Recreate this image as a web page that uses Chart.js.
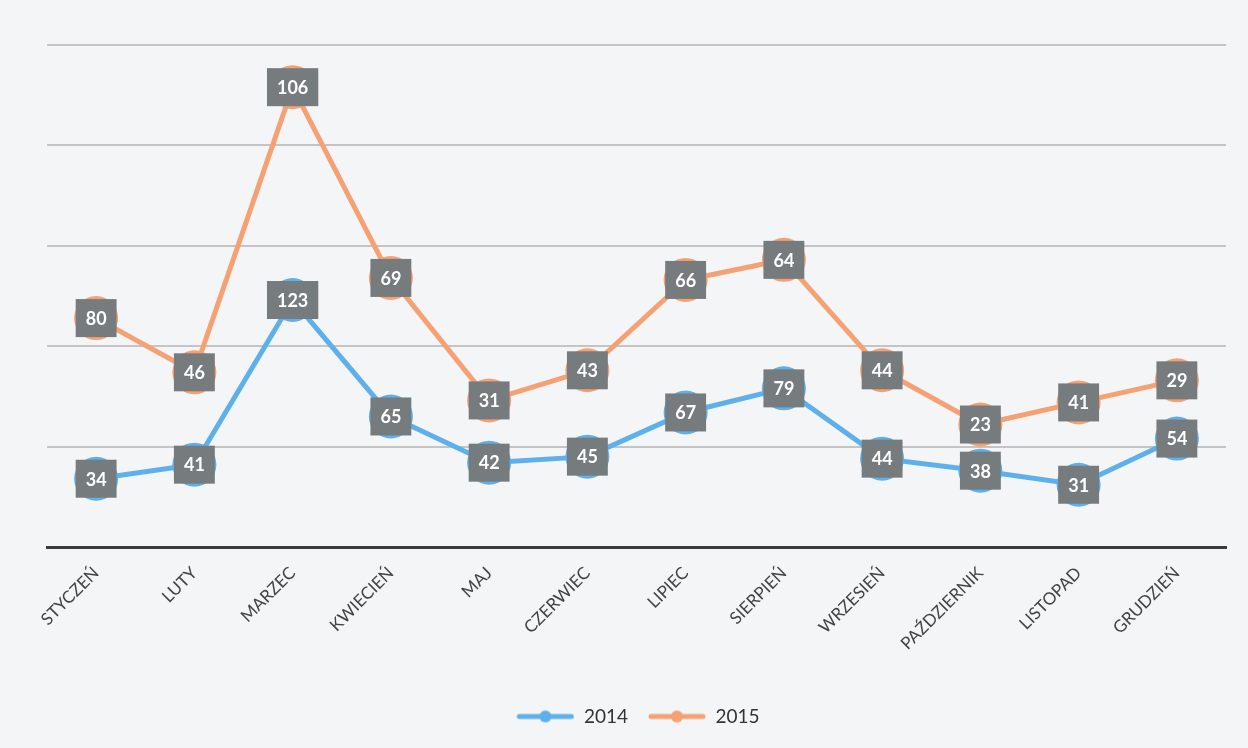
<!DOCTYPE html>
<html>
<head>
<meta charset="utf-8">
<script src="https://cdn.jsdelivr.net/npm/chart.js@4.4.1/dist/chart.umd.min.js"></script>
<style>
html,body{margin:0;padding:0;background:#f4f5f7;}
#wrap{position:relative;width:1248px;height:748px;}
</style>
</head>
<body>
<div id="wrap"><canvas id="c" width="1248" height="748"></canvas></div>
<script>
const months = ['STYCZEŃ','LUTY','MARZEC','KWIECIEŃ','MAJ','CZERWIEC','LIPIEC','SIERPIEŃ','WRZESIEŃ','PAŹDZIERNIK','LISTOPAD','GRUDZIEŃ'];
const values2014 = [34,41,123,65,42,45,67,79,44,38,31,54];
const values2015 = [80,46,106,69,31,43,66,64,44,23,41,29];
const seriesNames = ['2014','2015'];
const yTicks = [0,50,100,150,200,250];

const blue = '#5eb0ec';
const orange = '#f5a173';

function legendIcon(color){
  const cv = document.createElement('canvas');
  cv.width = 58; cv.height = 14;
  const g = cv.getContext('2d');
  g.strokeStyle = color; g.lineWidth = 5; g.lineCap='round';
  g.beginPath(); g.moveTo(3,7); g.lineTo(55,7); g.stroke();
  g.fillStyle = color; g.beginPath(); g.arc(29,7,6,0,Math.PI*2); g.fill();
  return cv;
}

const labelPlugin = {
  id:'boxLabels',
  afterDatasetsDraw(chart){
    const ctx = chart.ctx;
    ctx.save();
    ctx.font = 'bold 18px Lato, "Open Sans", sans-serif';
    ctx.textAlign='center'; ctx.textBaseline='middle';
    chart.data.datasets.forEach((ds,i)=>{
      const meta = chart.getDatasetMeta(i);
      meta.data.forEach((pt,j)=>{
        const txt = String(ds.data[j]);
        const w = ctx.measureText(txt).width + 20;
        const h = 38;
        ctx.fillStyle = '#767c7d';
        ctx.fillRect(pt.x - w/2, pt.y - h/2, w, h);
        ctx.fillStyle = '#ffffff';
        ctx.fillText(txt, pt.x, pt.y+1);
      });
    });
    ctx.restore();
  }
};

new Chart(document.getElementById('c'), {
  type:'line',
  data:{
    labels: months,
    datasets:[
      {label:seriesNames[0], data:values2014, borderColor:blue, backgroundColor:blue, borderWidth:5,
       pointRadius:22, pointHoverRadius:22, pointBackgroundColor:blue, pointBorderWidth:0, fill:false, tension:0},
      {label:seriesNames[1], data:values2015, borderColor:orange, backgroundColor:orange, borderWidth:5,
       pointRadius:22, pointHoverRadius:22, pointBackgroundColor:orange, pointBorderWidth:0, fill:false, tension:0}
    ]
  },
  options:{
    responsive:false,
    animation:false,
    events:[],
    layout:{padding:{left:47,right:19,top:45,bottom:12}},
    plugins:{
      tooltip:{enabled:false},
      legend:{
        position:'bottom',
        labels:{
          usePointStyle:true,
          pointStyleWidth:58,
          boxHeight:14,
          color:'#333',
          font:{size:19, family:'Lato, "Open Sans", sans-serif'},
          padding:20,
          generateLabels(chart){
            return chart.data.datasets.map((ds,i)=>({
              text:ds.label, pointStyle:legendIcon(ds.borderColor), fillStyle:ds.borderColor,
              strokeStyle:ds.borderColor, lineWidth:0, hidden:false, datasetIndex:i, fontColor:'#333'
            }));
          }
        }
      }
    },
    scales:{
      x:{
        offset:true,
        grid:{display:false, offset:true},
        border:{display:true, color:'#3a3a3a', width:3},
        ticks:{minRotation:45, maxRotation:45, color:'#444', font:{size:17, family:'Lato, "Open Sans", sans-serif'}, padding:8},
        afterFit(s){ s.height = 140; }
      },
      y:{
        stacked:true,
        min:yTicks[0], max:yTicks[yTicks.length-1],
        afterBuildTicks(s){ s.ticks = yTicks.map(v=>({value:v})); },
        ticks:{display:false},
        border:{display:false},
        grid:{color:(c)=> c.tick.value===0 ? 'rgba(0,0,0,0)' : '#c4c4c4', lineWidth:2, drawTicks:false},
        afterFit(s){ s.width = 0; }
      }
    }
  },
  plugins:[labelPlugin]
});
</script>
</body>
</html>
